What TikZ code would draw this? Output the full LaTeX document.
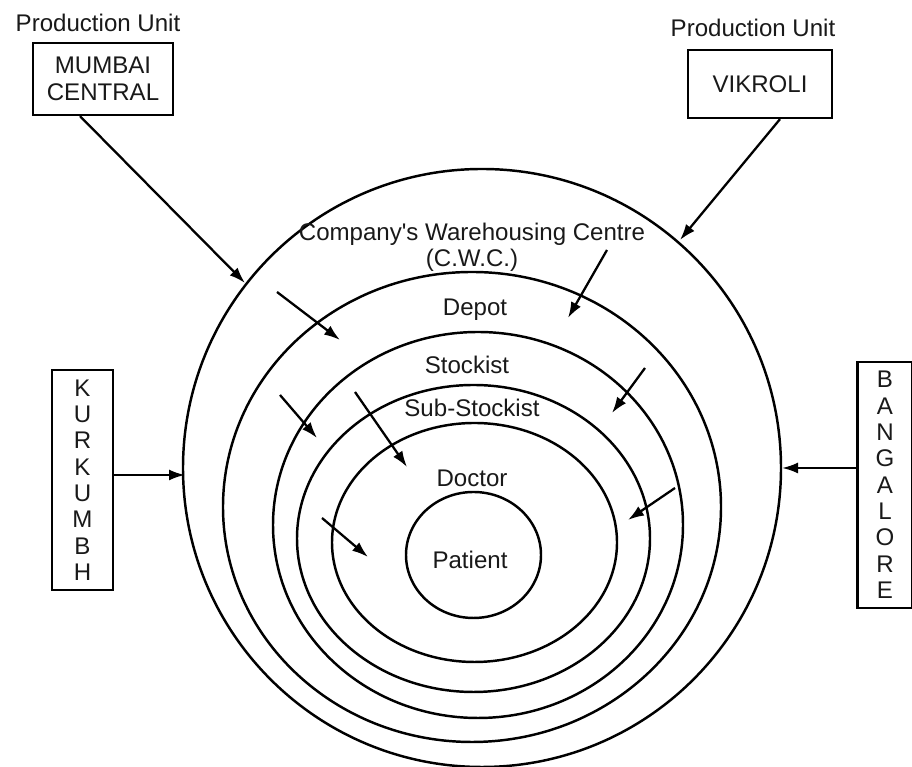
\documentclass[tikz,border=0pt]{standalone}
\usepackage{fontspec}
\setmainfont{Liberation Sans}
\usetikzlibrary{arrows.meta}
\tikzset{
  unitbox/.style={draw,line width=1.3pt,inner sep=0pt,align=center},
  ring/.style={line width=1.4pt},
  flow/.style={line width=1.3pt,-{Latex[length=3.2mm,width=2.2mm]}},
  lvl/.style={inner sep=1pt,align=center}
}
\newcommand{\plainfont}{\fontsize{13.7}{15}\selectfont}

\begin{document}
\begin{tikzpicture}[font=\plainfont, every node/.append style={text=black!90}]
    \useasboundingbox (0,0) rectangle (18.24,15.34);
    % rings, outer to inner
    \draw[ring] (9.64,5.98) circle (5.98);
    \draw[ring] (9.44,5.20) ellipse [x radius=4.98, y radius=4.70];
    \draw[ring] (9.56,4.84) ellipse [x radius=4.10, y radius=3.86];
    \draw[ring] (9.47,4.57) ellipse [x radius=3.53, y radius=3.07];
    \draw[ring] (9.49,4.49) ellipse [x radius=2.85, y radius=2.39];
    \draw[ring] (9.47,4.24) ellipse [x radius=1.35, y radius=1.26];
    % ring labels
    \node[lvl] (cwc) at (9.44,10.40) {Company\textquotesingle s Warehousing Centre\\(C.W.C.)};
    \node[lvl] (depot) at (9.50,9.14) {Depot};
    \node[lvl] (stockist) at (9.34,8.04) {Stockist};
    \node[lvl] (substockist) at (9.44,7.18) {Sub-Stockist};
    \node[lvl] (doctor) at (9.44,5.78) {Doctor};
    \node[lvl] (patient) at (9.40,4.14) {Patient};
    % production units
    \node (pu1) at (1.96,14.88) {Production Unit};
    \node[unitbox, minimum width=2.8cm, minimum height=1.44cm] (mumbai) at (2.06,13.76) {MUMBAI\\CENTRAL};
    \node (pu2) at (15.06,14.78) {Production Unit};
    \node[unitbox, minimum width=2.88cm, minimum height=1.36cm] (vikroli) at (15.20,13.66) {VIKROLI};
    \node[unitbox, minimum width=1.22cm, minimum height=4.4cm] (kurkumbh) at (1.65,5.74) {K\\U\\R\\K\\U\\M\\B\\H};
    \node[unitbox, minimum width=1.10cm, minimum height=4.92cm] (bangalore) at (17.70,5.64) {B\\A\\N\\G\\A\\L\\O\\R\\E};
    % entry points on the outer ring
    \coordinate (inM) at (4.90,9.68);
    \coordinate (inV) at (13.60,10.54);
    \coordinate (inK) at (3.70,5.84);
    \coordinate (inB) at (15.64,5.98);
    \draw[flow] ([xshift=-0.46cm]mumbai.south) -- (inM);
    \draw[flow] ([xshift=0.40cm]vikroli.south) -- (inV);
    \draw[flow] (kurkumbh.east |- inK) -- (inK);
    \draw[flow] (bangalore.west |- inB) -- (inB);
    % flow between rings
    \draw[flow] (5.54,9.50) -- (6.80,8.54);
    \draw[flow] (12.14,10.34) -- (11.36,8.98);
    \draw[flow] (5.60,7.44) -- (6.34,6.58);
    \draw[flow] (7.10,7.50) -- (8.14,6.00);
    \draw[flow] (12.90,7.98) -- (12.24,7.08);
    \draw[flow] (6.44,4.98) -- (7.36,4.20);
    \draw[flow] (13.50,5.58) -- (12.56,4.94);
\end{tikzpicture}
\end{document}
